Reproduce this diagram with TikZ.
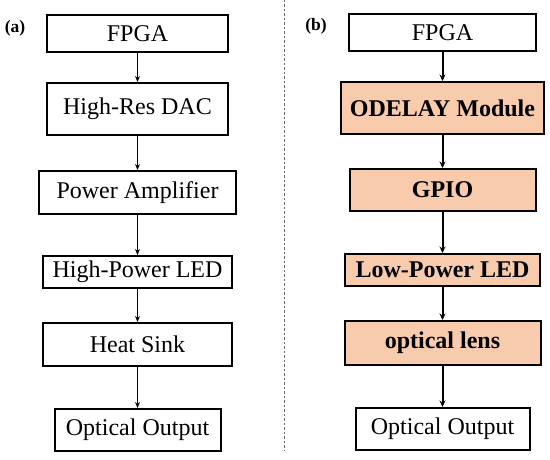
\documentclass[tikz,border=0pt]{standalone}
\usepackage{fontspec}
\setmainfont{Liberation Serif}
\usetikzlibrary{arrows.meta,positioning}
\definecolor{ink}{RGB}{0,0,0}
\definecolor{peach}{RGB}{248,203,173}
\definecolor{divider}{RGB}{105,105,105}
\tikzset{
  blk/.style={draw=ink,line width=2pt,fill=white,inner sep=0pt,align=center,font=\fontsize{24}{28}\selectfont},
  hot/.style={blk,fill=peach,font=\fontsize{24}{28}\selectfont\bfseries},
  tag/.style={inner sep=0pt,font=\fontsize{17.5}{20}\selectfont\bfseries},
  flowA/.style={-{Stealth[length=6pt,width=5pt]},ink,line width=1.3pt},
  flowB/.style={-{Stealth[length=6.5pt,width=6pt]},ink,line width=2pt},
  sep/.style={divider,line width=1pt,dash pattern=on 2.5pt off 2pt},
}
\begin{document}
\begin{tikzpicture}[x=1pt,y=1pt]
\useasboundingbox (0,0) rectangle (550,460);
% panel (a)
\node[tag] (labA) at (15,432) {(a)};
\node[blk,minimum width=181pt,minimum height=37pt] (fpgaA) at (137.5,426.5) {FPGA};
\node[blk,minimum width=181pt,minimum height=52pt,below=29pt of fpgaA] (dac) {High-Res DAC};
\node[blk,minimum width=197pt,minimum height=43pt,below=34pt of dac] (amp) {Power Amplifier};
\node[blk,minimum width=189pt,minimum height=32pt,below=40pt of amp] (hpled) {High-Power LED};
\node[blk,minimum width=189pt,minimum height=43pt,below=33pt of hpled] (sink) {Heat Sink};
\node[blk,minimum width=166pt,minimum height=42pt,below=41pt of sink] (outA) {Optical Output};
\draw[flowA] (fpgaA)--(dac);
\draw[flowA] (dac)--(amp);
\draw[flowA] (amp)--(hpled);
\draw[flowA] (hpled)--(sink);
\draw[flowA] (sink)--(outA);
% divider
\coordinate (divtop) at (284,460);
\coordinate (divbot) at (284,9);
\draw[sep] (divtop)--(divbot);
% panel (b)
\node[tag] (labB) at (316,434) {(b)};
\node[blk,minimum width=187pt,minimum height=37pt] (fpgaB) at (442.5,427.5) {FPGA};
\node[hot,minimum width=203pt,minimum height=52pt,below=29pt of fpgaB] (odelay) {ODELAY Module};
\node[hot,minimum width=186pt,minimum height=42pt,below=33pt of odelay] (gpio) {GPIO};
\node[hot,minimum width=195pt,minimum height=32pt,below=41pt of gpio] (lpled) {Low-Power LED};
\node[hot,minimum width=196pt,minimum height=44pt,below=33pt of lpled] (lens) {optical lens};
\node[blk,minimum width=174pt,minimum height=42pt,below=41pt of lens] (outB) {Optical Output};
\draw[flowB] (fpgaB)--(odelay);
\draw[flowB] (odelay)--(gpio);
\draw[flowB] (gpio)--(lpled);
\draw[flowB] (lpled)--(lens);
\draw[flowB] (lens)--(outB);
\end{tikzpicture}
\end{document}
